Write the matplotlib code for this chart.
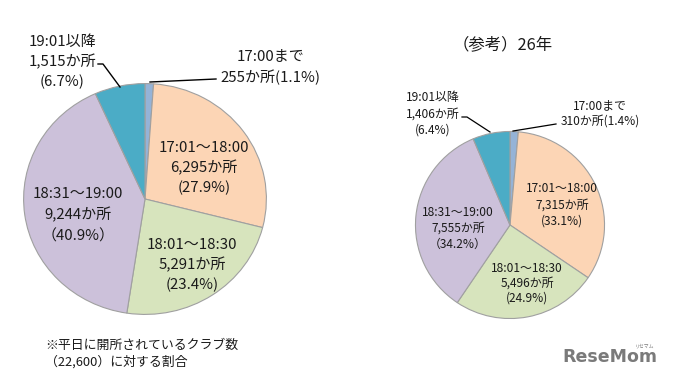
import matplotlib
matplotlib.use("Agg")
import matplotlib.pyplot as plt

plt.rcParams['font.family'] = ['Noto Sans CJK JP', 'DejaVu Sans']

W, H = 674, 381

# data (clockwise from 12 o'clock)
categories = ['17:00まで', '17:01～18:00', '18:01～18:30', '18:31～19:00', '19:01以降']
counts_now = [255, 6295, 5291, 9244, 1515]
pcts_now = ['1.1%', '27.9%', '23.4%', '40.9%', '6.7%']
counts_26 = [310, 7315, 5496, 7555, 1406]
pcts_26 = ['1.4%', '33.1%', '24.9%', '34.2%', '6.4%']
colors = ['#95b3d7', '#fcd5b5', '#d7e4bd', '#ccc1da', '#4bacc6']


def fmt(n):
    return f'{n:,}か所'


fig = plt.figure(figsize=(W / 100, H / 100), dpi=100)
fig.patch.set_facecolor('white')

# overlay axes in pixel coordinates (y from top)
ov = fig.add_axes([0, 0, 1, 1])
ov.set_xlim(0, W)
ov.set_ylim(H, 0)
ov.axis('off')


def draw_pie(cx, cy, rx, ry, values):
    ax = fig.add_axes([(cx - rx) / W, 1 - (cy + ry) / H, 2 * rx / W, 2 * ry / H])
    ax.pie(values, startangle=90, counterclock=False, colors=colors,
           wedgeprops=dict(edgecolor='#a0a0a0', linewidth=0.8))
    ax.set_aspect('auto')
    ax.set_xlim(-1.005, 1.005)
    ax.set_ylim(-1.005, 1.005)
    ax.set_zorder(0)
    return ax


draw_pie(145, 199, 122, 116, counts_now)
draw_pie(510, 225, 95, 94, counts_26)
ov.set_zorder(5)


def block(x, y, lines, size, dy, ha='center'):
    for i, s in enumerate(lines):
        ov.text(x, y + i * dy, s, fontsize=size, ha=ha, va='center', color='#1a1a1a')


# left pie labels
fs = 10.8
block(62, 42, [categories[4], fmt(counts_now[4]), f'({pcts_now[4]})'], fs, 20)
ov.plot([98, 103, 120], [64, 64, 87], color='black', lw=1)
block(270, 57, [categories[0], f'{fmt(counts_now[0])}({pcts_now[0]})'], fs, 20)
ov.plot([150, 216], [82, 79], color='black', lw=1)
block(204, 148, [categories[1], fmt(counts_now[1]), f'({pcts_now[1]})'], fs, 20)
block(192, 245, [categories[2], fmt(counts_now[2]), f'({pcts_now[2]})'], fs, 20)
block(78, 194, [categories[3], fmt(counts_now[3]), f'（{pcts_now[3]}）'], fs, 21)

# note
block(45, 345, ['※平日に開所されているクラブ数', '（22,600）に対する割合'], 9.3, 17, ha='left')

# right pie
ov.text(503, 45, '（参考）26年', fontsize=11.8, ha='center', va='center', color='#1a1a1a')
fs2 = 8.6
block(433, 98, [categories[4], fmt(counts_26[4]), f'({pcts_26[4]})'], fs2, 16)
ov.plot([462, 467, 490], [117, 117, 132], color='black', lw=0.9)
block(600, 106, [categories[0], f'{fmt(counts_26[0])}({pcts_26[0]})'], fs2, 15)
ov.plot([513, 556], [131, 124], color='black', lw=0.9)
block(562, 189, [categories[1], fmt(counts_26[1]), f'({pcts_26[1]})'], fs2, 16)
block(458, 212, [categories[3], fmt(counts_26[3]), f'（{pcts_26[3]}）'], fs2, 16)
block(527, 268, [categories[2], fmt(counts_26[2]), f'({pcts_26[2]})'], fs2, 15)

# watermark
ov.text(610, 357, 'ReseMom', fontsize=12.5, fontweight='bold', color='#7a7a7a',
        ha='center', va='center', family='DejaVu Sans')
ov.text(645, 346, 'リセマム', fontsize=3.5, color='#7a7a7a', ha='center', va='center')

fig.savefig('out.png', dpi=100, facecolor='white')
